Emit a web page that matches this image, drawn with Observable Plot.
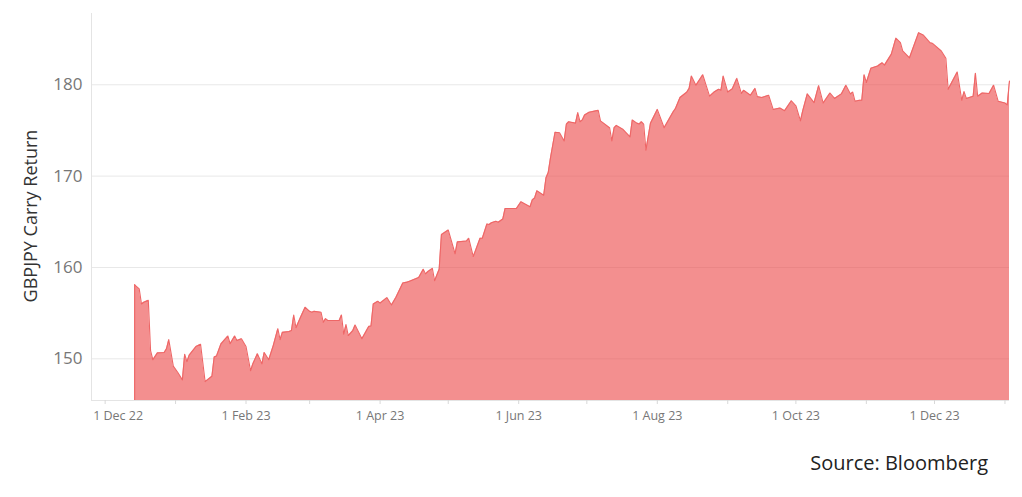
<!DOCTYPE html>
<html><head><meta charset="utf-8">
<script src="https://cdn.jsdelivr.net/npm/d3@7"></script>
<script src="https://cdn.jsdelivr.net/npm/@observablehq/plot@0.6"></script>
<style>
html,body{margin:0;padding:0;background:#fff;}
#wrap{position:relative;width:1022px;height:497px;overflow:hidden;}
#source{position:absolute;right:34px;top:449px;font-family:"Open Sans", sans-serif;font-size:20px;color:#222;white-space:nowrap;}
</style></head>
<body><div id="wrap"><div id="chart"></div><div id="source"></div></div>
<script>
const dates = [
"2022-12-14","2022-12-16","2022-12-17","2022-12-18","2022-12-20","2022-12-21","2022-12-22","2022-12-24","2022-12-27","2022-12-28","2022-12-29","2022-12-31",
"2023-01-02","2023-01-04","2023-01-05","2023-01-06","2023-01-07","2023-01-10","2023-01-12","2023-01-14","2023-01-17","2023-01-18","2023-01-19","2023-01-21","2023-01-24","2023-01-25","2023-01-27","2023-01-28","2023-01-30",
"2023-02-01","2023-02-03","2023-02-04","2023-02-06","2023-02-08","2023-02-09","2023-02-11","2023-02-13","2023-02-15","2023-02-16","2023-02-17","2023-02-20","2023-02-21","2023-02-22","2023-02-23","2023-02-25","2023-02-27",
"2023-03-01","2023-03-02","2023-03-03","2023-03-06","2023-03-07","2023-03-08","2023-03-09","2023-03-14","2023-03-15","2023-03-16","2023-03-17","2023-03-18","2023-03-20","2023-03-21","2023-03-24","2023-03-27","2023-03-28","2023-03-29","2023-03-31",
"2023-04-01","2023-04-04","2023-04-06","2023-04-08","2023-04-11","2023-04-13","2023-04-14","2023-04-18","2023-04-20","2023-04-21","2023-04-22","2023-04-24","2023-04-25","2023-04-27","2023-04-28",
"2023-05-01","2023-05-04","2023-05-05","2023-05-09","2023-05-10","2023-05-12","2023-05-13","2023-05-15","2023-05-16","2023-05-18","2023-05-19","2023-05-20","2023-05-22","2023-05-23","2023-05-25","2023-05-26","2023-05-31",
"2023-06-02","2023-06-06","2023-06-07","2023-06-08","2023-06-09","2023-06-12","2023-06-13","2023-06-14","2023-06-15","2023-06-17","2023-06-19","2023-06-21","2023-06-22","2023-06-23","2023-06-26","2023-06-27","2023-06-28","2023-06-29","2023-06-30",
"2023-07-02","2023-07-06","2023-07-07","2023-07-11","2023-07-12","2023-07-13","2023-07-14","2023-07-17","2023-07-20","2023-07-21","2023-07-23","2023-07-24","2023-07-25","2023-07-26","2023-07-27","2023-07-29",
"2023-08-01","2023-08-04","2023-08-08","2023-08-09","2023-08-11","2023-08-14","2023-08-15","2023-08-16","2023-08-18","2023-08-21","2023-08-24","2023-08-26","2023-08-28","2023-08-29","2023-08-30",
"2023-09-01","2023-09-03","2023-09-05","2023-09-07","2023-09-08","2023-09-11","2023-09-13","2023-09-14","2023-09-16","2023-09-19","2023-09-21","2023-09-24","2023-09-26","2023-09-29",
"2023-10-01","2023-10-03","2023-10-04","2023-10-06","2023-10-09","2023-10-11","2023-10-13","2023-10-16","2023-10-18","2023-10-21","2023-10-23","2023-10-25","2023-10-26","2023-10-27","2023-10-29","2023-10-30","2023-10-31",
"2023-11-01","2023-11-03","2023-11-06","2023-11-07","2023-11-08","2023-11-09","2023-11-12","2023-11-14","2023-11-16","2023-11-17","2023-11-20","2023-11-24","2023-11-26","2023-11-29","2023-11-30",
"2023-12-04","2023-12-06","2023-12-07","2023-12-11","2023-12-13","2023-12-14","2023-12-15","2023-12-18","2023-12-19","2023-12-20","2023-12-22","2023-12-25","2023-12-27","2023-12-29",
"2024-01-01","2024-01-02","2024-01-03"
];
const values = [
158.1,157.65,156.0,156.2,156.4,150.9,149.9,150.65,150.7,151.1,152.1,149.2,
148.5,147.7,150.5,149.7,150.4,151.35,151.6,147.5,148.1,150.2,150.3,151.65,152.5,151.65,152.5,152.0,152.2,
151.35,148.7,149.45,150.55,149.45,150.7,149.9,151.45,153.3,152.1,152.9,153.0,153.1,154.8,153.4,154.55,155.65,
155.2,155.1,155.2,155.1,154.0,154.4,154.2,154.2,154.8,152.7,153.75,152.55,153.1,153.7,152.2,153.55,153.6,156.0,156.3,
156.1,156.7,155.9,156.75,158.3,158.4,158.5,158.9,159.8,159.3,159.55,159.9,158.55,159.8,163.6,
164.1,161.5,162.8,162.9,163.2,161.2,161.85,163.2,163.2,164.75,164.7,164.9,165.05,164.95,165.3,166.45,166.45,
167.2,166.65,167.4,167.6,168.4,167.9,169.8,170.4,172.0,174.8,174.75,173.85,175.7,175.95,175.8,176.95,175.95,176.15,176.7,
177.0,177.2,176.05,175.3,173.85,175.3,175.55,175.1,174.3,176.15,175.8,175.7,175.95,175.7,172.85,175.8,
177.3,175.3,177.05,177.4,178.6,179.2,179.6,180.95,179.95,181.1,178.75,179.2,179.5,179.4,180.95,
179.2,179.55,180.7,179.05,179.4,178.85,179.6,178.7,178.6,178.85,177.3,177.45,177.15,178.25,
177.7,176.05,177.15,179.0,178.05,179.9,178.0,179.1,178.5,179.0,179.95,179.0,179.2,178.2,178.3,178.3,181.1,
180.25,181.8,182.05,182.25,182.4,182.15,183.35,185.1,184.6,183.7,182.95,185.7,185.45,184.6,184.55,
183.7,182.9,179.5,181.4,178.3,179.25,178.5,178.75,181.25,178.75,179.1,179.05,179.95,178.2,
178.0,177.8,180.4
];
const yTicks = [150, 160, 170, 180];
const xLabelDates = ["2022-12-01","2023-02-01","2023-04-01","2023-06-01","2023-08-01","2023-10-01","2023-12-01"];
const xDomain = ["2022-11-25","2024-01-03"];
const yDomain = [145.44, 187.8];
const yTitle = "GBPJPY Carry Return";
const sourceText = "Source: Bloomberg";

const parse = d3.utcParse("%Y-%m-%d");
const data = dates.map((d, i) => ({date: parse(d), value: values[i]}));
const x0 = parse(xDomain[0]), x1 = parse(xDomain[1]);
const fmt = d3.utcFormat("%-d %b %y");
const labels = xLabelDates.map(parse);
const monthTicks = d3.utcMonths(x0, x1);
const red = "#ee6666";
const font = "'Open Sans', sans-serif";

const chart = Plot.plot({
  width: 1022, height: 432,
  marginLeft: 91, marginRight: 13, marginTop: 13, marginBottom: 32,
  x: {type: "utc", domain: [x0, x1]},
  y: {domain: yDomain},
  style: {fontFamily: font, background: "#fff"},
  marks: [
    Plot.gridY({ticks: yTicks, stroke: "#e8e8e8", strokeOpacity: 1}),
    Plot.areaY(data, {x: "date", y1: yDomain[0], y2: "value", fill: "#ec4848", fillOpacity: 0.61}),
    Plot.lineY(data, {x: "date", y: "value", stroke: red, strokeWidth: 1.1}),
    Plot.ruleX(data.slice(0, 1), {x: "date", y1: yDomain[0], y2: "value", stroke: red, strokeWidth: 1.1}),
    Plot.ruleX([x0], {stroke: "#e4e4e4"}),
    Plot.ruleY([yDomain[0]], {stroke: "#e4e4e4"}),
    Plot.axisX({ticks: monthTicks, tickSize: 4, stroke: "#d8d8d8", tickFormat: () => "", label: null}),
    Plot.axisX({ticks: labels.slice(1), tickSize: 0, tickPadding: 11, tickFormat: fmt, fontSize: 12.5, fill: "#777", label: null}),
    Plot.axisX({ticks: labels.slice(0, 1), tickSize: 0, tickPadding: 11, tickFormat: fmt, fontSize: 12.5, fill: "#777", dx: 13, label: null}),
    Plot.axisY({ticks: yTicks, tickSize: 0, tickPadding: 9, fontSize: 17, fill: "#777", label: null}),
    Plot.text([yTitle], {text: d => d, frameAnchor: "left", textAnchor: "middle", dx: -60, dy: 9, rotate: -90, fontSize: 18, fill: "#333", letterSpacing: 1.1})
  ]
});
document.getElementById("chart").appendChild(chart);
document.getElementById("source").textContent = sourceText;
</script>
</body></html>
